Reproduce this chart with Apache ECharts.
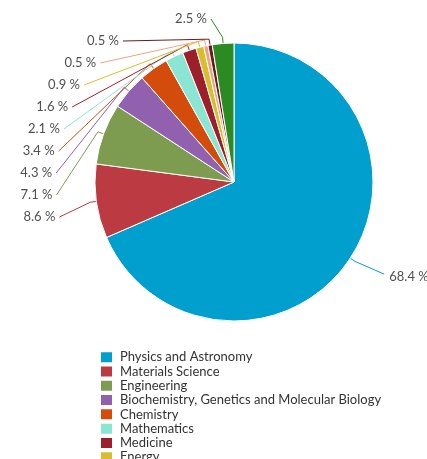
<!DOCTYPE html>
<html>
<head>
<meta charset="utf-8">
<script src="https://cdn.jsdelivr.net/npm/echarts@6/dist/echarts.min.js"></script>
<style>
  html, body { margin: 0; padding: 0; background: #fff; }
  #chart { width: 427px; height: 459px; }
</style>
</head>
<body>
<div id="chart"></div>
<script>
// Documents by subject area (share in %)
const categories = [
  'Physics and Astronomy',
  'Materials Science',
  'Engineering',
  'Biochemistry, Genetics and Molecular Biology',
  'Chemistry',
  'Mathematics',
  'Medicine',
  'Energy',
  'Earth and Planetary Sciences',
  'Computer Science',
  'Other'
];
const shares = [68.4, 8.6, 7.1, 4.3, 3.4, 2.1, 1.6, 0.9, 0.5, 0.5, 2.5];
const sliceColors = [
  '#009fce', '#bc3a41', '#7e9c50', '#9160ae', '#d34c0c', '#8ae5d3',
  '#9d1f2b', '#d8be2f', '#f0a283', '#6b1a1e', '#2c8a22'
];

// pie geometry
const CX = 234, CY = 182, R = 139;
// labels on the left are stacked along an outer circle
const LABEL_R = 182, LABEL_STEP = 22;

const total = shares.reduce((a, b) => a + b, 0);
const midAngles = [];
let acc = 0;
shares.forEach(v => {
  midAngles.push((90 - 360 * (acc + v / 2) / total) * Math.PI / 180);
  acc += v;
});

function pointAt(i, r) {
  return [CX + r * Math.cos(midAngles[i]), CY - r * Math.sin(midAngles[i])];
}

function placeLabel(params) {
  const i = params.dataIndex;
  const edge = pointAt(i, R);
  const bend = pointAt(i, R + 6);
  if (i === 0) {
    const x = edge[0] + 39;
    const y = edge[1] + 19;
    return {
      x: x, y: y, align: 'left', verticalAlign: 'middle',
      labelLinePoints: [edge, bend, [x - 5, y - 3]]
    };
  }
  const y = CY + 35 - LABEL_STEP * (i - 1);
  const dy = y - CY;
  let x = CX - Math.sqrt(Math.max(LABEL_R * LABEL_R - dy * dy, 0));
  if (i === shares.length - 1) x = CX - 27;
  return {
    x: x, y: y, align: 'right', verticalAlign: 'middle',
    labelLinePoints: [edge, bend, [x + 4, y]]
  };
}

const chart = echarts.init(document.getElementById('chart'), null, { renderer: 'canvas' });
chart.setOption({
  animation: false,
  color: sliceColors,
  legend: {
    orient: 'vertical',
    left: 99,
    top: 350,
    height: 300,
    padding: 0,
    itemWidth: 13,
    itemHeight: 12,
    itemGap: 0,
    icon: 'rect',
    selectedMode: false,
    data: categories,
    textStyle: {
      fontFamily: 'Lato',
      fontSize: 13,
      color: '#333',
      lineHeight: 14.3,
      padding: [0, 0, 0, 2]
    }
  },
  series: [{
    type: 'pie',
    center: [CX, CY],
    radius: R,
    startAngle: 90,
    clockwise: true,
    avoidLabelOverlap: false,
    data: categories.map((name, i) => ({ name: name, value: shares[i] })),
    itemStyle: { borderColor: '#fff', borderWidth: 1 },
    label: {
      show: true,
      formatter: p => p.value.toFixed(1) + ' %',
      fontFamily: 'Lato',
      fontSize: 13,
      color: '#505050'
    },
    labelLine: { show: true, length: 8, length2: 10, lineStyle: { width: 1 } },
    labelLayout: placeLabel,
    emphasis: { disabled: true }
  }]
});
</script>
</body>
</html>
